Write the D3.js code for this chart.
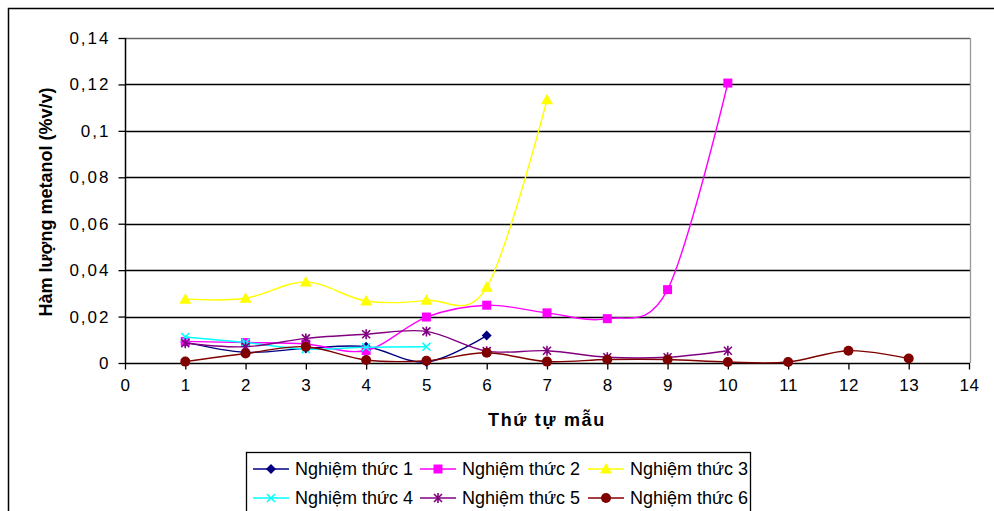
<!DOCTYPE html>
<html><head><meta charset="utf-8">
<script src="https://cdn.jsdelivr.net/npm/d3@7"></script>
<style>
body{margin:0;background:#fff;}
svg{display:block;font-family:"Liberation Sans",Arial,sans-serif;}
</style></head>
<body><svg id="c" width="994" height="511"></svg>
<script>
const seriesNames = ["Nghiệm thức 1","Nghiệm thức 2","Nghiệm thức 3","Nghiệm thức 4","Nghiệm thức 5","Nghiệm thức 6"];
const s1 = [0.009,0.0046,0.0063,0.007,0.0004,0.0118];
const s2 = [0.0093,0.0088,0.0082,0.0054,0.0198,0.0249,0.0216,0.0191,0.0316,0.1206];
const s3 = [0.0275,0.0279,0.0349,0.0267,0.027,0.0326,0.1134];
const s4 = [0.0112,0.0088,0.006,0.0068,0.007];
const s5 = [0.0085,0.007,0.0106,0.0124,0.0136,0.0051,0.0053,0.0025,0.0025,0.0053];
const s6 = [0.0006,0.0041,0.007,0.0013,0.001,0.0044,0.0006,0.0015,0.0015,0.0004,0.0004,0.0053,0.0019];
const xTicks = d3.range(0,15);
const yTicks = [0,0.02,0.04,0.06,0.08,0.1,0.12,0.14];
const yTickLabels = ["0","0,02","0,04","0,06","0,08","0,1","0,12","0,14"];
const xTitle = "Thứ tự mẫu";
const yTitle = "Hàm lượng metanol (%v/v)";

const colors = ["#000080","#FF00FF","#FFFF00","#00FFFF","#800080","#800000"];
const markers = ["diamond","square","triangle","x","star","circle"];
const data = [s1,s2,s3,s4,s5,s6];

const svg = d3.select("#c");
// outer border
svg.append("rect").attr("x",8.5).attr("y",8.5).attr("width",1000).attr("height",600)
  .attr("fill","none").attr("stroke","#000").attr("stroke-width",1.5);

const x = d3.scaleLinear().domain([0,14]).range([125,969]);
const y = d3.scaleLinear().domain([0,0.14]).range([363,38]);

// gridlines
svg.append("g").selectAll("line").data(yTicks.slice(1)).join("line")
  .attr("x1",125).attr("x2",970).attr("y1",d=>Math.round(y(d))+0.5).attr("y2",d=>Math.round(y(d))+0.5)
  .attr("stroke",d=> d===0.14?"#666":"#000").attr("stroke-width",1.3);
// right border of plot
svg.append("line").attr("x1",970.5).attr("x2",970.5).attr("y1",38).attr("y2",363)
  .attr("stroke","#999").attr("stroke-width",1.3);

// axes
const yAxis = d3.axisLeft(y).tickValues(yTicks).tickFormat((d,i)=>yTickLabels[i]).tickSize(7).tickPadding(8);
const gy = svg.append("g").attr("transform","translate(125.5,0)").call(yAxis);
const xAxis = d3.axisBottom(x).tickValues(xTicks).tickSize(6).tickPadding(9);
const gx = svg.append("g").attr("transform","translate(0,363.5)").call(xAxis);
[gx,gy].forEach(g=>{
  g.select(".domain").attr("stroke","#000").attr("stroke-width",1.5);
  g.selectAll(".tick line").attr("stroke","#000").attr("stroke-width",1.3);
  g.selectAll("text").attr("font-size",17).attr("fill","#000").attr("font-family","Liberation Sans, Arial, sans-serif");
});
gy.selectAll("text").attr("letter-spacing","2px");
gx.selectAll("text").attr("letter-spacing","0.6px");
gy.select(".domain").attr("d","M0,38V363");
gx.select(".domain").attr("d","M125,0H970");

// titles
svg.append("text").attr("x",547).attr("y",426).attr("text-anchor","middle")
  .attr("font-weight","bold").attr("font-size",18).attr("letter-spacing","1.7px").text(xTitle);
svg.append("text").attr("transform","translate(52,202) rotate(-90)").attr("text-anchor","middle")
  .attr("font-weight","bold").attr("font-size",18).text(yTitle);

const line = d3.line().x(d=>x(d[0])).y(d=>y(d[1])).curve(d3.curveCardinal.tension(0));

function drawMarker(g, type, color){
  if(type==="diamond") g.append("path").attr("d","M0,-5L5,0L0,5L-5,0Z").attr("fill",color);
  else if(type==="square") g.append("rect").attr("x",-4.5).attr("y",-4.5).attr("width",9).attr("height",9).attr("fill",color);
  else if(type==="triangle") g.append("path").attr("d","M0,-6L6,4.5L-6,4.5Z").attr("fill",color);
  else if(type==="circle") g.append("circle").attr("r",5).attr("fill",color);
  else if(type==="x") g.append("path").attr("d","M-4,-4L4,4M-4,4L4,-4").attr("stroke",color).attr("stroke-width",1.6);
  else if(type==="star") g.append("path").attr("d","M-4,-4L4,4M-4,4L4,-4M0,-5V5").attr("stroke",color).attr("stroke-width",1.6);
}

data.forEach((arr,si)=>{
  const pts = arr.map((v,i)=>[i+1,v]);
  const g = svg.append("g");
  g.append("path").attr("d",line(pts)).attr("fill","none").attr("stroke",colors[si]).attr("stroke-width",1.4);
  pts.forEach(p=>{
    const m = g.append("g").attr("transform",`translate(${x(p[0])},${y(p[1])})`);
    drawMarker(m, markers[si], colors[si]);
  });
});

// legend
const lg = svg.append("g");
lg.append("rect").attr("x",246.5).attr("y",452.5).attr("width",504).attr("height",80)
  .attr("fill","#fff").attr("stroke","#000").attr("stroke-width",1.3);
const colX = [253,420,588];
const rowY = [469,498];
seriesNames.forEach((name,i)=>{
  const cx = colX[i%3], cy = rowY[Math.floor(i/3)];
  const e = lg.append("g");
  e.append("line").attr("x1",cx).attr("x2",cx+36).attr("y1",cy).attr("y2",cy).attr("stroke",colors[i]).attr("stroke-width",1.4);
  const m = e.append("g").attr("transform",`translate(${cx+18},${cy})`);
  drawMarker(m, markers[i], colors[i]);
  e.append("text").attr("x",cx+42).attr("y",cy+6).attr("font-size",18).text(name);
});
</script></body></html>
